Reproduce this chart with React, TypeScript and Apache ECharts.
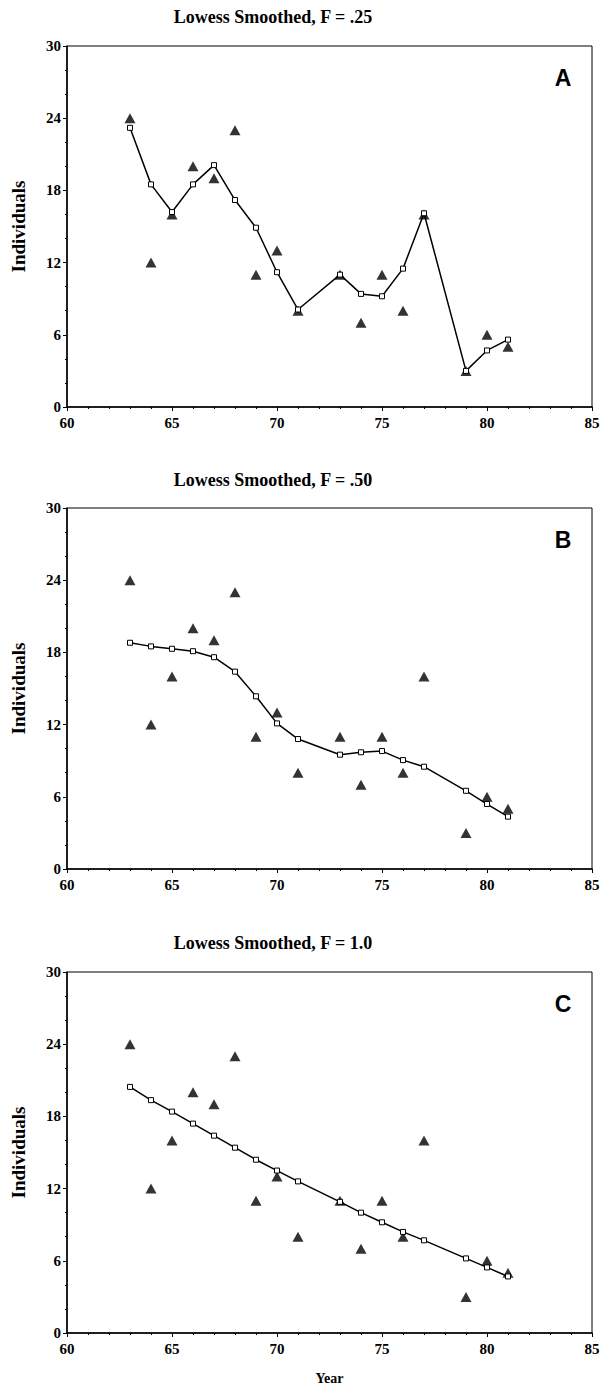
import React, { useEffect, useRef } from "react";
import * as echarts from "echarts";

const years = [63, 64, 65, 66, 67, 68, 69, 70, 71, 73, 74, 75, 76, 77, 79, 80, 81];
const observed = [24, 12, 16, 20, 19, 23, 11, 13, 8, 11, 7, 11, 8, 16, 3, 6, 5];
const smoothA = [23.2, 18.5, 16.2, 18.5, 20.1, 17.2, 14.9, 11.2, 8.1, 11.0, 9.4, 9.2, 11.5, 16.1, 3.0, 4.7, 5.6];
const smoothB = [18.8, 18.5, 18.3, 18.1, 17.6, 16.4, 14.35, 12.1, 10.8, 9.5, 9.7, 9.8, 9.05, 8.5, 6.5, 5.4, 4.35];
const smoothC = [20.45, 19.35, 18.4, 17.4, 16.4, 15.4, 14.4, 13.5, 12.6, 10.9, 10.0, 9.2, 8.4, 7.7, 6.2, 5.45, 4.7];

const panelTitles = ["Lowess Smoothed, F = .25", "Lowess Smoothed, F = .50", "Lowess Smoothed, F = 1.0"];
const panelLetters = ["A", "B", "C"];
const smoothSets = [smoothA, smoothB, smoothC];
const xRange = [60, 85];
const yRange = [0, 30];

const SERIF = "'Liberation Serif', 'DejaVu Serif', serif";

export default function App() {
  const ref = useRef<HTMLDivElement>(null);
  useEffect(() => {
    document.body.style.margin = "0";
    const chart = echarts.init(ref.current!, undefined, { renderer: "svg" });
    const tops = [46, 508, 972];
    const titleY = [17, 480, 943];
    const gridH = 361;
    const grids: any[] = [];
    const xAxes: any[] = [];
    const yAxes: any[] = [];
    const series: any[] = [];
    const graphics: any[] = [];
    tops.forEach((top, i) => {
      grids.push({
        left: 67,
        top,
        width: 525,
        height: gridH,
        outerBoundsMode: "none",
        containLabel: false,
        show: true,
        borderColor: "#000",
        borderWidth: 1,
        backgroundColor: "transparent",
      });
      xAxes.push({
        type: "value",
        gridIndex: i,
        min: xRange[0],
        max: xRange[1],
        interval: 5,
        name: i === 2 ? "Year" : "",
        nameLocation: "middle",
        nameGap: 38,
        nameTextStyle: { fontFamily: SERIF, fontWeight: "bold", fontSize: 14, color: "#000" },
        axisLine: { show: true, onZero: false, lineStyle: { color: "#000", width: 1.5 } },
        axisTick: { show: true, inside: false, length: 4, lineStyle: { color: "#000", width: 1 } },
        minorTick: { show: true, splitNumber: 5, length: 2, lineStyle: { color: "#000" } },
        axisLabel: { fontFamily: SERIF, fontWeight: "bold", fontSize: 15, color: "#000", margin: 8 },
        splitLine: { show: false },
      });
      yAxes.push({
        type: "value",
        gridIndex: i,
        min: yRange[0],
        max: yRange[1],
        interval: 6,
        name: "Individuals",
        nameLocation: "middle",
        nameGap: 39,
        nameTextStyle: { fontFamily: SERIF, fontWeight: "bold", fontSize: 19, color: "#000" },
        axisLine: { show: true, onZero: false, lineStyle: { color: "#000", width: 1.5 } },
        axisTick: { show: true, inside: false, length: 4, lineStyle: { color: "#000", width: 1 } },
        minorTick: { show: true, splitNumber: 3, length: 2, lineStyle: { color: "#000" } },
        axisLabel: { fontFamily: SERIF, fontWeight: "bold", fontSize: 15, color: "#000", margin: 6 },
        splitLine: { show: false },
      });
      series.push({
        type: "scatter",
        xAxisIndex: i,
        yAxisIndex: i,
        symbol: "triangle",
        symbolSize: [11, 10],
        itemStyle: { color: "#000" },
        data: years.map((y, k) => [y, observed[k]]),
        z: 2,
      });
      series.push({
        type: "line",
        xAxisIndex: i,
        yAxisIndex: i,
        symbol: "rect",
        symbolSize: 5,
        showSymbol: true,
        itemStyle: { color: "#fff", borderColor: "#000", borderWidth: 1 },
        lineStyle: { color: "#000", width: 1.5 },
        data: years.map((y, k) => [y, smoothSets[i][k]]),
        z: 3,
      });
      graphics.push({
        type: "text",
        x: 273,
        y: titleY[i],
        style: {
          text: panelTitles[i],
          font: `bold 18px ${SERIF}`,
          fill: "#000",
          textAlign: "center",
          textVerticalAlign: "middle",
        },
      });
      graphics.push({
        type: "text",
        x: 563,
        y: top + 32,
        style: {
          text: panelLetters[i],
          font: `bold 23px 'Liberation Sans', Arial, sans-serif`,
          fill: "#000",
          textAlign: "center",
          textVerticalAlign: "middle",
        },
      });
    });
    chart.setOption({
      animation: false,
      backgroundColor: "#fff",
      grid: grids,
      xAxis: xAxes,
      yAxis: yAxes,
      series,
      graphic: graphics,
    });
    return () => chart.dispose();
  }, []);
  return <div ref={ref} style={{ width: 600, height: 1386 }} />;
}
